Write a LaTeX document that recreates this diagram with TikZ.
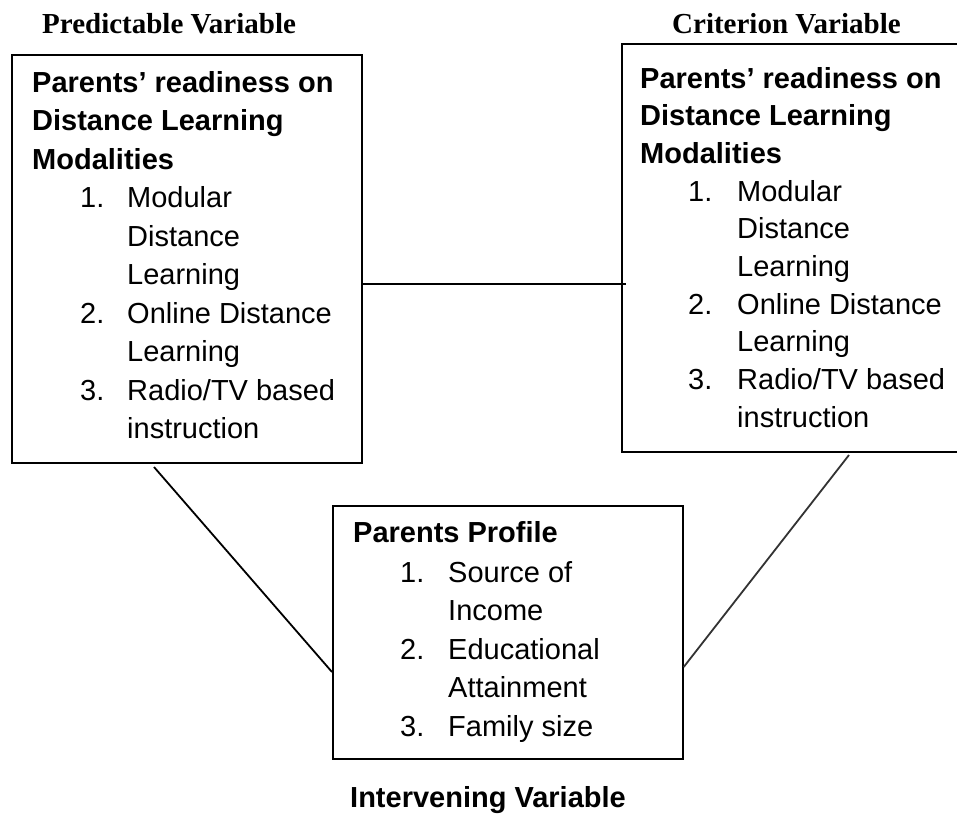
\documentclass[tikz,border=0pt]{standalone}
\usepackage{fontspec}
\setmainfont{Liberation Serif}
\setsansfont{Liberation Sans}
\begin{document}
\begin{tikzpicture}[x=1pt,y=-1pt,
  box/.style={draw=black, line width=1.7pt, rectangle, inner sep=0, anchor=north west},
  hd/.style={anchor=base west, inner sep=0, font=\sffamily\bfseries\fontsize{29}{35}\selectfont},
  tx/.style={anchor=base west, inner sep=0, font=\sffamily\fontsize{29}{35}\selectfont},
  ttl/.style={anchor=base west, inner sep=0, font=\rmfamily\bfseries\fontsize{29}{35}\selectfont},
  link/.style={draw=black, line width=2pt}]
\useasboundingbox (0,0) rectangle (957,815);
\fill[white] (0,0) rectangle (957,815);

% titles
\node[ttl] (tp) at (42,33) {Predictable Variable};
\node[ttl] (tc) at (672,33) {Criterion Variable};
\node[hd]  (ti) at (350,807) {Intervening Variable};

% boxes
\node[box, minimum width=350, minimum height=408] (L) at (11,54) {};
\node[box, minimum width=350, minimum height=408] (R) at (621,43) {};
\node[box, minimum width=350, minimum height=253] (B) at (332,505) {};

% left box text
\node[hd] (l1) at (32,92) {Parents’ readiness on};
\node[hd] (l2) at (32,130.5) {Distance Learning};
\node[hd] (l3) at (32,169) {Modalities};
\node[tx] (ln1) at (80,207.5) {1.};
\node[tx] (l4) at (127,207.5) {Modular};
\node[tx] (l5) at (127,246) {Distance};
\node[tx] (l6) at (127,284.5) {Learning};
\node[tx] (ln2) at (80,323) {2.};
\node[tx] (l7) at (127,323) {Online Distance};
\node[tx] (l8) at (127,361.5) {Learning};
\node[tx] (ln3) at (80,400) {3.};
\node[tx] (l9) at (127,400) {Radio/TV based};
\node[tx] (l10) at (127,438.5) {instruction};

% right box text
\node[hd] (r1) at (640,88) {Parents’ readiness on};
\node[hd] (r2) at (640,125.7) {Distance Learning};
\node[hd] (r3) at (640,163.4) {Modalities};
\node[tx] (rn1) at (688,201.1) {1.};
\node[tx] (r4) at (737,201.1) {Modular};
\node[tx] (r5) at (737,238.8) {Distance};
\node[tx] (r6) at (737,276.5) {Learning};
\node[tx] (rn2) at (688,314.2) {2.};
\node[tx] (r7) at (737,314.2) {Online Distance};
\node[tx] (r8) at (737,351.9) {Learning};
\node[tx] (rn3) at (688,389.6) {3.};
\node[tx] (r9) at (737,389.6) {Radio/TV based};
\node[tx] (r10) at (737,427.3) {instruction};

% bottom box text
\node[hd] (b1) at (353,542) {Parents Profile};
\node[tx] (bn1) at (400,582) {1.};
\node[tx] (b2) at (448,582) {Source of};
\node[tx] (b3) at (448,620.5) {Income};
\node[tx] (bn2) at (400,659) {2.};
\node[tx] (b4) at (448,659) {Educational};
\node[tx] (b5) at (448,697.5) {Attainment};
\node[tx] (bn3) at (400,736) {3.};
\node[tx] (b6) at (448,736) {Family size};

% connectors
\coordinate (hR) at ([xshift=5pt]R.west |- 0,284);
\draw[link] (L.east |- 0,284) -- (hR);
\coordinate (dl) at (154,467);
\draw[link, line width=1.8pt] (dl) -- (B.west |- 0,672);
\coordinate (dr) at (849,455);
\draw[link, line width=1.8pt, draw=black!80] (dr) -- (B.east |- 0,667);
\end{tikzpicture}
\end{document}
